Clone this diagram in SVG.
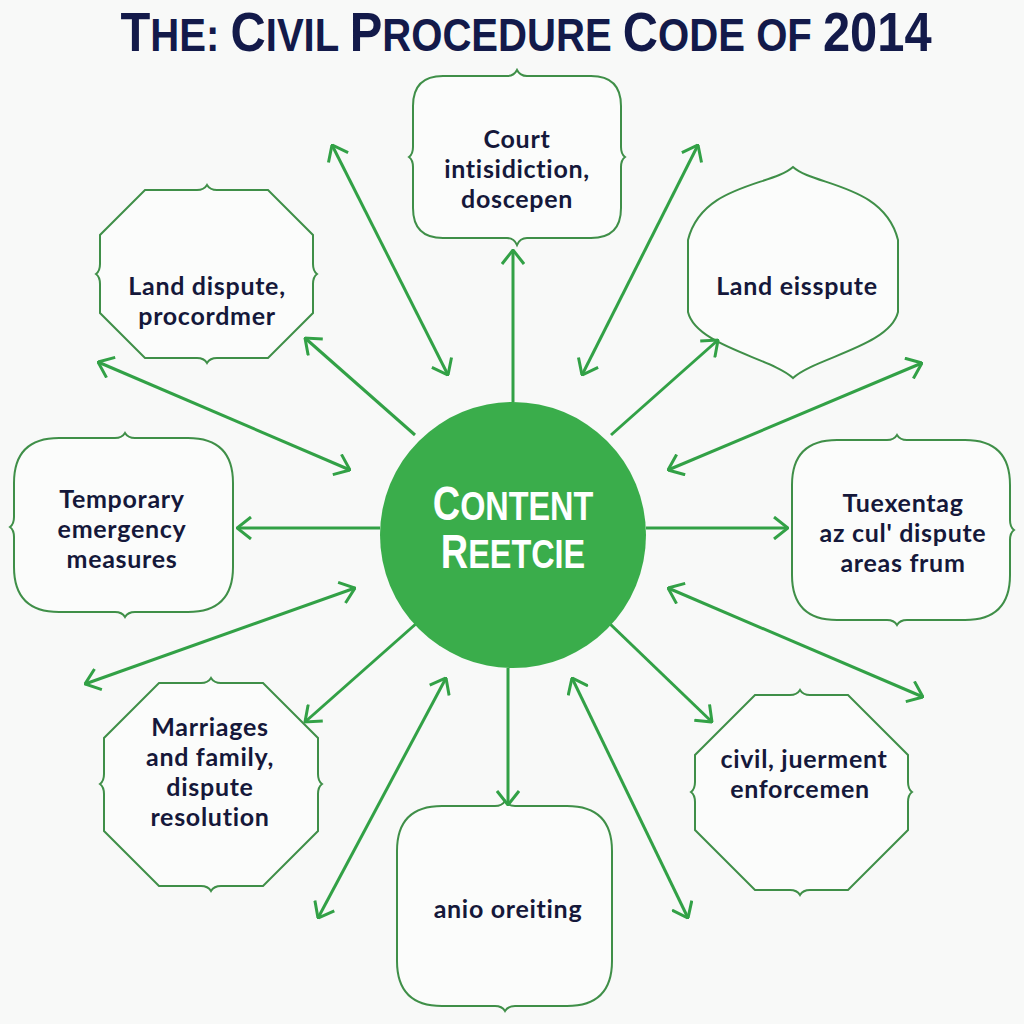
<svg xmlns="http://www.w3.org/2000/svg" width="1024" height="1024" viewBox="0 0 1024 1024">
<style>
.node{fill:#fbfcfb;stroke:#3f8f48;stroke-width:2}
.lbl{font-family:Lato,"Open Sans",sans-serif;font-weight:bold;font-size:25px;letter-spacing:0.7px;fill:#15183a;text-anchor:middle}
.con{stroke:#32a146;stroke-width:3;fill:none}
.ttl{font-family:"Liberation Sans",Arial,sans-serif;font-weight:bold;fill:#131a4a}
.ctr{font-family:"Liberation Sans",Arial,sans-serif;font-weight:bold;fill:#ffffff}
</style>
<defs>
<marker id="ah" viewBox="0 0 16 24" refX="15" refY="12" markerWidth="16" markerHeight="24" markerUnits="userSpaceOnUse" orient="auto-start-reverse">
<path d="M1,1 L15,12 L1,23" fill="none" stroke="#32a146" stroke-width="3"/>
</marker>
</defs>
<rect width="1024" height="1024" fill="#f8f9f8"/>
<g transform="translate(526,51) scale(0.872,1)">
<text class="ttl" x="0" y="0" text-anchor="middle"><tspan font-size="56">T</tspan><tspan font-size="46">HE: </tspan><tspan font-size="56">C</tspan><tspan font-size="46">IVIL </tspan><tspan font-size="56">P</tspan><tspan font-size="46">ROCEDURE </tspan><tspan font-size="56">C</tspan><tspan font-size="46">ODE OF </tspan><tspan font-size="56">2014</tspan></text>
</g>

<g id="node-court">
<path class="node" d="M443,76 L507,76 Q514,76 517,70 Q520,76 527,76 L591,76 Q621,76 621,106 L621,147 Q621,154 625,157 Q621,160 621,167 L621,208 Q621,238 591,238 L527,238 Q520,238 517,245 Q514,238 507,238 L443,238 Q413,238 413,208 L413,167 Q413,160 409,157 Q413,154 413,147 L413,106 Q413,76 443,76 Z"/>
<text class="lbl" x="517" y="148">Court</text>
<text class="lbl" x="517" y="178">intisidiction,</text>
<text class="lbl" x="517" y="208">doscepen</text>
</g>

<g id="node-land1">
<path class="node" d="M145,190 L197,190 Q204,190 207,185 Q210,190 217,190 L268,190 L313,235 L313,264 Q313,271 317,274 Q313,277 313,284 L313,313 L268,358 L217,358 Q210,358 207,363 Q204,358 197,358 L145,358 L100,313 L100,284 Q100,277 96,274 Q100,271 100,264 L100,235 Z"/>
<text class="lbl" x="207" y="295">Land dispute,</text>
<text class="lbl" x="207" y="325">procordmer</text>
</g>

<g id="node-land2">
<path class="node" d="M793,167 C772,186 702,184 688,240 L688,312 C696,346 772,358 793,378 C814,358 890,346 898,312 L898,240 C884,184 814,186 793,167 Z"/>
<text class="lbl" x="797" y="295">Land eisspute</text>
</g>

<g id="node-temporary">
<path class="node" d="M59,438 L115,438 Q122,438 125,433 Q128,438 135,438 L188,438 Q233,438 233,483 L233,567 Q233,612 188,612 L135,612 Q128,612 125,617 Q122,612 115,612 L59,612 Q14,612 14,567 L14,537 Q14,530 10,527 Q14,524 14,517 L14,483 Q14,438 59,438 Z"/>
<text class="lbl" x="122" y="508">Temporary</text>
<text class="lbl" x="122" y="538">emergency</text>
<text class="lbl" x="122" y="568">measures</text>
</g>

<g id="node-tuexentag">
<path class="node" d="M837,440 L887,440 Q894,440 897,435 Q900,440 907,440 L965,440 Q1010,440 1010,485 L1010,520 Q1010,527 1014,530 Q1010,533 1010,540 L1010,575 Q1010,620 965,620 L907,620 Q900,620 897,625 Q894,620 887,620 L837,620 Q792,620 792,575 L792,485 Q792,440 837,440 Z"/>
<text class="lbl" x="903" y="512">Tuexentag</text>
<text class="lbl" x="903" y="542">az cul' dispute</text>
<text class="lbl" x="903" y="572">areas frum</text>
</g>

<g id="node-marriages">
<path class="node" d="M159,683 L201,683 Q208,683 211,678 Q214,683 221,683 L263,683 L318,738 L318,774 Q318,781 322,784 Q318,787 318,794 L318,831 L263,886 L221,886 Q214,886 211,891 Q208,886 201,886 L159,886 L104,831 L104,794 Q104,787 100,784 Q104,781 104,774 L104,738 Z"/>
<text class="lbl" x="210" y="736">Marriages</text>
<text class="lbl" x="210" y="766">and family,</text>
<text class="lbl" x="210" y="796">dispute</text>
<text class="lbl" x="210" y="826">resolution</text>
</g>

<g id="node-civil">
<path class="node" d="M755,695 L790,695 Q797,695 800,690 Q803,695 810,695 L848,695 L908,755 L908,782 Q908,789 912,792 Q908,795 908,802 L908,830 L848,890 L810,890 Q803,890 800,895 Q797,890 790,890 L755,890 L695,830 L695,802 Q695,795 691,792 Q695,789 695,782 L695,755 Z"/>
<text class="lbl" x="804" y="768">civil, juerment</text>
<text class="lbl" x="800" y="798">enforcemen</text>
</g>

<g id="node-anio">
<path class="node" d="M442,806 L495,806 Q502,806 505,801 Q508,806 515,806 L567,806 Q612,806 612,851 L612,961 Q612,1006 567,1006 L515,1006 Q508,1006 505,1011 Q502,1006 495,1006 L442,1006 Q397,1006 397,961 L397,851 Q397,806 442,806 Z"/>
<text class="lbl" x="508" y="918">anio oreiting</text>
</g>

<g id="connectors">
<path class="con" d="M513,402 L513,250" marker-end="url(#ah)"/>
<path class="con" d="M332,145 L448,375" marker-start="url(#ah)" marker-end="url(#ah)"/>
<path class="con" d="M698,145 L582,375" marker-start="url(#ah)" marker-end="url(#ah)"/>
<path class="con" d="M415,435 L305,338" marker-end="url(#ah)"/>
<path class="con" d="M611,435 L718,340" marker-end="url(#ah)"/>
<path class="con" d="M98,362 L350,470" marker-start="url(#ah)" marker-end="url(#ah)"/>
<path class="con" d="M922,363 L668,470" marker-start="url(#ah)" marker-end="url(#ah)"/>
<path class="con" d="M380,528 L237,528" marker-end="url(#ah)"/>
<path class="con" d="M646,528 L788,528" marker-end="url(#ah)"/>
<path class="con" d="M85,684 L355,588" marker-start="url(#ah)" marker-end="url(#ah)"/>
<path class="con" d="M923,697 L668,588" marker-start="url(#ah)" marker-end="url(#ah)"/>
<path class="con" d="M418,622 L305,722" marker-end="url(#ah)"/>
<path class="con" d="M608,622 L712,722" marker-end="url(#ah)"/>
<path class="con" d="M508,668 L508,805" marker-end="url(#ah)"/>
<path class="con" d="M446,678 L318,918" marker-start="url(#ah)" marker-end="url(#ah)"/>
<path class="con" d="M572,678 L688,918" marker-start="url(#ah)" marker-end="url(#ah)"/>
</g>

<g id="center">
<circle cx="513" cy="535" r="133" fill="#3aad4b"/>
<g transform="translate(513,520) scale(0.79,1)">
<text class="ctr" x="0" y="0" text-anchor="middle"><tspan font-size="48">C</tspan><tspan font-size="41">ONTENT</tspan></text>
</g>
<g transform="translate(513,568) scale(0.79,1)">
<text class="ctr" x="0" y="0" text-anchor="middle"><tspan font-size="48">R</tspan><tspan font-size="41">EETCIE</tspan></text>
</g>
</g>
</svg>
